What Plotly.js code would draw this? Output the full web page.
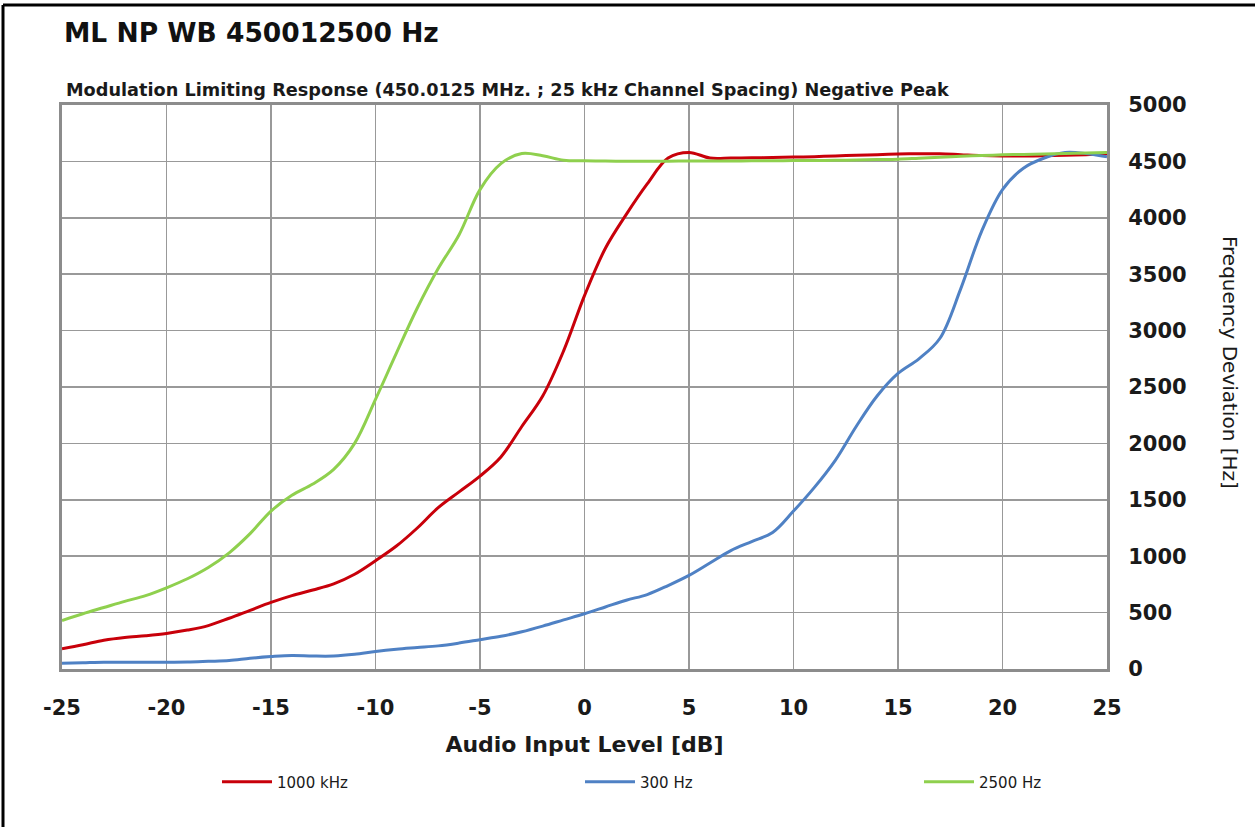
<!DOCTYPE html>
<html>
<head>
<meta charset="utf-8">
<script src="https://cdn.plot.ly/plotly-3.0.1.min.js"></script>
<style>html,body{margin:0;padding:0;background:#fff;}#chart{width:1255px;height:827px;}</style>
</head>
<body>
<div id="chart"></div>
<script>
const inputLevel = [-25,-24,-23,-22,-21,-20,-19,-18,-17,-16,-15,-14,-13,-12,-11,-10,-9,-8,-7,-6,-5,-4,-3,-2,-1,0,1,2,3,4,5,6,7,8,9,10,11,12,13,14,15,16,17,18,19,20,21,22,23,24,25];
const dev1000 = [180,215,255,280,295,315,345,385,450,520,590,650,700,755,840,960,1090,1250,1430,1570,1710,1880,2150,2420,2820,3310,3730,4030,4300,4530,4580,4530,4530,4532,4535,4538,4542,4548,4555,4560,4565,4568,4568,4560,4552,4548,4548,4550,4555,4560,4568];
const dev300 = [50,55,60,60,60,60,62,68,75,95,110,120,115,115,130,155,175,190,205,230,260,290,330,380,435,490,550,610,660,740,830,940,1050,1130,1210,1400,1610,1850,2150,2420,2620,2750,2930,3370,3880,4250,4440,4530,4580,4570,4540];
const dev2500 = [430,490,545,600,650,720,800,900,1030,1200,1400,1540,1640,1770,2000,2390,2800,3200,3550,3850,4250,4480,4570,4550,4510,4505,4503,4502,4502,4502,4503,4503,4504,4505,4506,4507,4508,4510,4512,4516,4520,4528,4536,4545,4552,4558,4562,4566,4570,4575,4580];
const seriesNames = ["1000 kHz","300 Hz","2500 Hz"];
const seriesColors = ["#c8000a","#4f81c4","#8fd04e"];
const xTicks = [-25,-20,-15,-10,-5,0,5,10,15,20,25];
const yTicks = [0,500,1000,1500,2000,2500,3000,3500,4000,4500,5000];

const W=1255,H=827,L=62,R=1107,T=105,B=669;
const px=(p)=>(p-L)/(R-L), py=(p)=>(B-p)/(B-T);

const ys = [dev1000, dev300, dev2500];
const legendIds = ['legend','legend2','legend3'];
const legendX = [217, 580, 919];
const traces = ys.map((y,i)=>({
  x: inputLevel, y: y, name: seriesNames[i], type:'scatter', mode:'lines', legend: legendIds[i],
  line:{color:seriesColors[i], width:3, shape:'spline', smoothing:1}
}));

const legendBase = (xp)=>({orientation:'h', x:px(xp), xanchor:'left', y:py(782), yanchor:'middle', itemwidth:50,
    font:{size:15, color:'#1a1a1a'}, bgcolor:'rgba(0,0,0,0)', borderwidth:0});

const layout = {
  width:W, height:H,
  margin:{l:L, r:W-R, t:T, b:H-B},
  paper_bgcolor:'#fff', plot_bgcolor:'#fff',
  font:{family:'"DejaVu Sans", Arial, sans-serif', color:'#222'},
  title:{text:'ML NP WB 450012500 Hz', xref:'container', yref:'container', x:64/W, xanchor:'left', y:1-33/H, yanchor:'middle',
    font:{family:'"DejaVu Sans", sans-serif', size:26.5, weight:'bold', color:'#111'}},
  xaxis:{range:[-25,25], tickvals:xTicks, ticktext:xTicks.map(String), showgrid:true, gridcolor:'#999', gridwidth:1.6,
    zeroline:false, showline:true, linecolor:'#8c8c8c', linewidth:3, mirror:true, ticks:'', ticklabelstandoff:18,
    tickfont:{size:21, weight:'bold', color:'#1a1a1a'},
    title:{text:'Audio Input Level [dB]', standoff:18, font:{size:22, weight:'bold', color:'#1a1a1a'}}},
  yaxis:{range:[0,5000], side:'right', tickvals:yTicks, ticktext:yTicks.map(String), showgrid:true, gridcolor:'#999', gridwidth:1.6,
    zeroline:false, showline:true, linecolor:'#8c8c8c', linewidth:3, mirror:true, ticks:'', ticklabelstandoff:14,
    tickfont:{size:21, weight:'bold', color:'#1a1a1a'}},
  showlegend:true,
  legend:legendBase(legendX[0]),
  legend2:legendBase(legendX[1]),
  legend3:legendBase(legendX[2]),
  annotations:[
    {text:'Modulation Limiting Response (450.0125 MHz. ; 25 kHz Channel Spacing) Negative Peak', xref:'paper', yref:'paper',
      x:px(64), xanchor:'left', y:py(90), yanchor:'middle', showarrow:false, font:{size:17.7, weight:'bold', color:'#1a1a1a'}},
    {text:'Frequency Deviation [Hz]', xref:'paper', yref:'paper', x:px(1230), xanchor:'center', y:py(362), yanchor:'middle',
      textangle:90, showarrow:false, font:{size:20, color:'#1a1a1a'}}
  ],
  shapes:[
    {type:'line', xref:'paper', yref:'paper', x0:px(3), x1:px(3), y0:py(5), y1:py(830), line:{color:'#000', width:3}},
    {type:'line', xref:'paper', yref:'paper', x0:px(3), x1:px(1258), y0:py(5), y1:py(5), line:{color:'#000', width:3}}
  ]
};
Plotly.newPlot('chart', traces, layout, {displayModeBar:false, staticPlot:true});
</script>
</body>
</html>
